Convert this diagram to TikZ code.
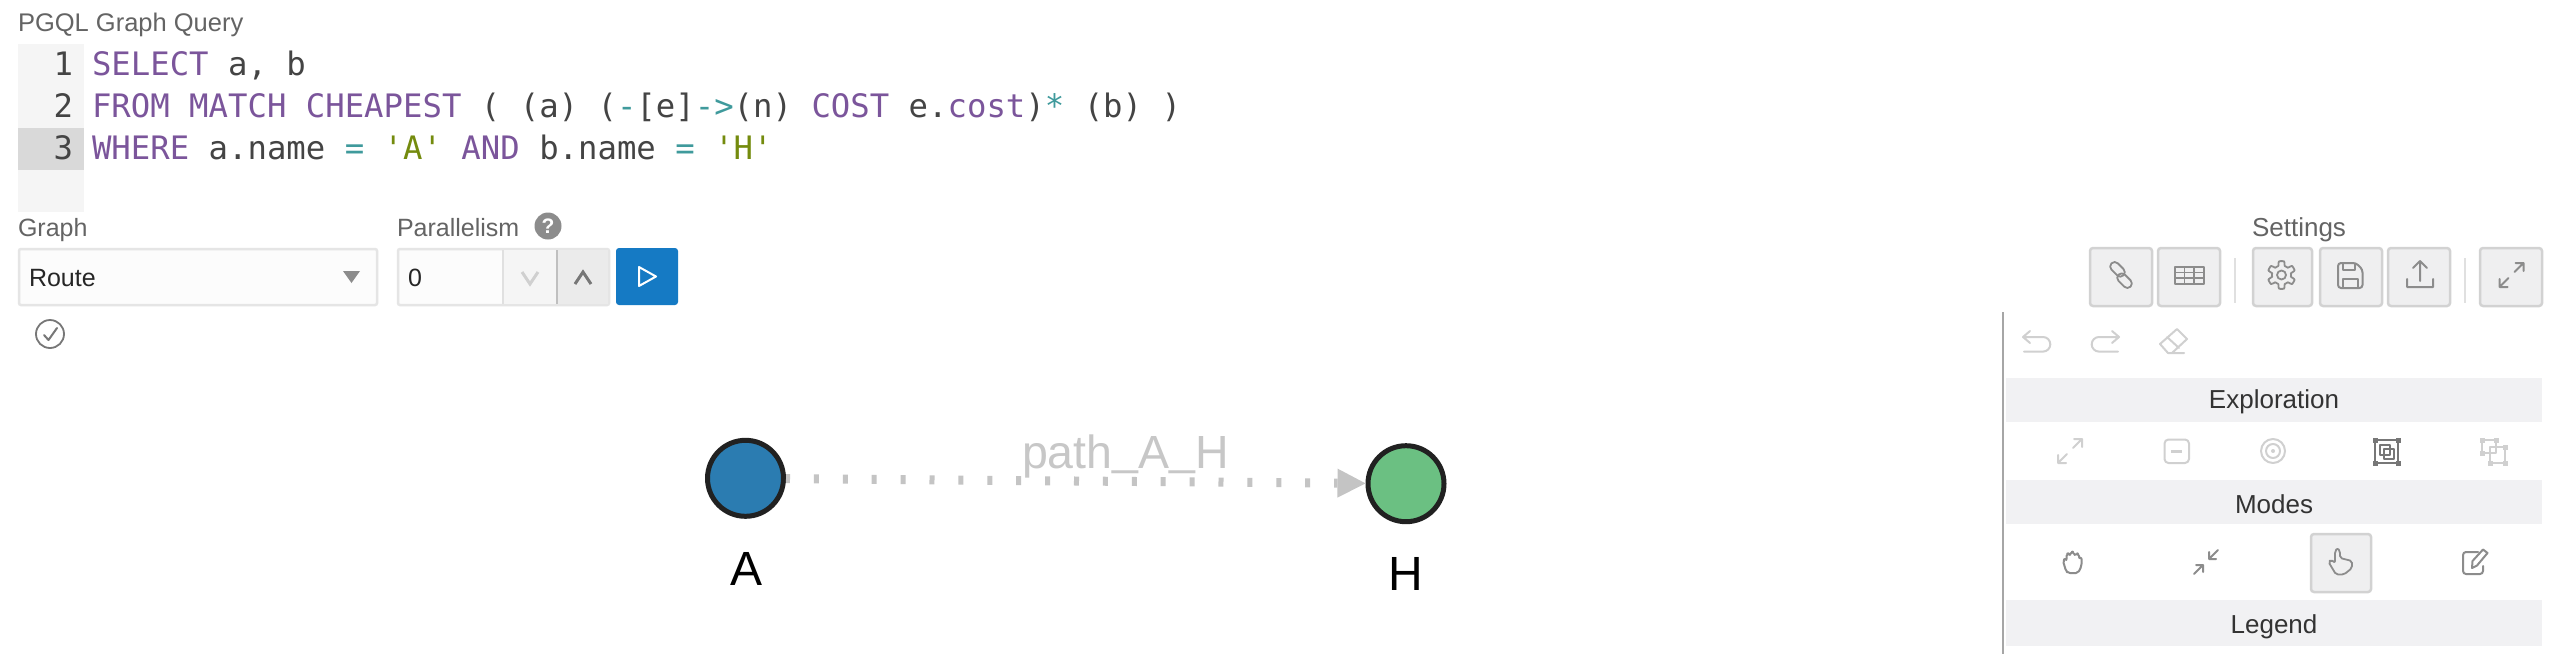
\documentclass[tikz,border=0pt]{standalone}
\usepackage{fontspec}
\setmainfont{Liberation Sans}
\newfontfamily\codefont{DejaVu Sans Mono}
\usetikzlibrary{arrows.meta}
\definecolor{kwc}{HTML}{7B559B}
\definecolor{opc}{HTML}{3F9A9C}
\definecolor{strc}{HTML}{748B0E}
\definecolor{txtc}{HTML}{444444}
\definecolor{lblc}{HTML}{646464}
\definecolor{barc}{HTML}{F1F1F3}
\definecolor{icoc}{HTML}{8C8C8C}
\definecolor{dimc}{HTML}{D0D0D0}
\definecolor{darkic}{HTML}{777777}
\definecolor{btnf}{HTML}{EFEFF0}
\definecolor{btnd}{HTML}{D2D2D2}
\definecolor{edgec}{HTML}{C4C4C4}
\newcommand{\codeK}[1]{\textcolor{kwc}{#1}}
\newcommand{\codeO}[1]{\textcolor{opc}{#1}}
\newcommand{\codeS}[1]{\textcolor{strc}{#1}}
\newcommand{\fsz}[1]{\fontsize{#1}{#1}\selectfont}
\tikzset{
  txt/.style={inner sep=0pt,outer sep=0pt},
  codeline/.style={txt,anchor=base west,text=txtc,font=\codefont\fsz{32.3}},
  gutnum/.style={txt,anchor=base east,text=txtc,font=\codefont\fsz{32.3}},
  lbl/.style={txt,anchor=base west,text=lblc,font=\fsz{25}},
  bartxt/.style={txt,anchor=base,text=black!80,font=\fsz{26}},
  toolbtn/.style={draw=btnd,fill=btnf,line width=2.5pt,rounded corners=3pt},
  bar/.style={fill=barc,draw=none},
  ic/.style={draw=icoc,line width=2pt,line cap=round,line join=round},
  icdim/.style={draw=dimc,line width=2pt,line cap=round,line join=round},
  icdark/.style={draw=darkic,line width=2pt,line cap=round,line join=round},
  gnode/.style={circle,draw=black!87,line width=5pt,minimum size=76pt,inner sep=0pt,outer sep=2.5pt},
  glabel/.style={txt,anchor=base,text=black,font=\fsz{48}},
  gedge/.style={draw=edgec,line width=9pt,dash pattern=on 5pt off 23.9pt,dash phase=1pt,
    -{Triangle[length=28pt,width=29pt,fill=edgec,line width=0pt]}}
}
\newcommand{\expandic}[3]{%
  \draw[#3] (#1+3,#2-3)--(#1+12,#2-12) (#1+4,#2-12)--(#1+12,#2-12)--(#1+12,#2-4)
            (#1-3,#2+3)--(#1-12,#2+12) (#1-4,#2+12)--(#1-12,#2+12)--(#1-12,#2+4);}
\newcommand{\collapseic}[3]{%
  \draw[#3] (#1+12,#2-12)--(#1+3,#2-3) (#1+3,#2-10)--(#1+3,#2-3)--(#1+10,#2-3)
            (#1-12,#2+12)--(#1-3,#2+3) (#1-3,#2+10)--(#1-3,#2+3)--(#1-10,#2+3);}
\begin{document}
\begin{tikzpicture}[x=1pt,y=-1pt]
\useasboundingbox (0,0) rectangle (2560,654);
\fill[white] (0,0) rectangle (2560,654);

% --- editor
\node[lbl,font=\fsz{25.5}] (title) at (18,31) {PGQL Graph Query};
\fill[black!4] (18,44) rectangle (84,212);
\fill[black!15] (18,128) rectangle (84,170);
\node[gutnum] (n1) at (73,75) {1};
\node[gutnum] (n2) at (73,117) {2};
\node[gutnum] (n3) at (73,159) {3};
\node[codeline] (l1) at (92,75) {\codeK{SELECT} a, b};
\node[codeline] (l2) at (92,117) {\codeK{FROM MATCH CHEAPEST} ( (a) (\codeO{-}[e]\codeO{->}(n) \codeK{COST} e.\codeK{cost})\codeO{*} (b) )};
\node[codeline] (l3) at (92,159) {\codeK{WHERE} a.name \codeO{=} \codeS{\textquotesingle A\textquotesingle} \codeK{AND} b.name \codeO{=} \codeS{\textquotesingle H\textquotesingle}};

% --- form row
\node[lbl] (glab) at (18,236) {Graph};
\node[lbl] (plab) at (397,236) {Parallelism};
\node[circle,fill=icoc,inner sep=0pt,minimum size=27pt,text=white,font=\bfseries\fsz{21}] (help) at (548,226) {?};
\draw[draw=black!10,fill=black!1,line width=2.5pt,rounded corners=2pt] (19,249) rectangle (377,305);
\node[txt,anchor=base west,text=black!85,font=\fsz{25}] (route) at (29,286) {Route};
\fill[icoc] (343,271) -- (360,271) -- (351.5,283) -- cycle;
\draw[draw=black!10,fill=black!1,line width=2.5pt,rounded corners=2pt] (398,249) rectangle (609,305);
\fill[black!4] (503,250) rectangle (557,304);
\fill[black!8] (557,250) rectangle (608,304);
\draw[black!12,line width=2pt] (503,250)--(503,304);
\draw[black!25,line width=2pt] (557,250)--(557,304);
\node[txt,anchor=base west,text=black!85,font=\fsz{25}] (zero) at (408,286) {0};
\draw[dimc,line width=3pt] (522,272)--(530,284)--(538,272);
\draw[darkic,line width=3pt] (575,284)--(583,272)--(591,284);
\fill[rounded corners=3pt,fill={rgb,255:red,21;green,122;blue,196}] (616,248) rectangle (678,305);
\draw[white,line width=2pt,line join=round] (639,267)--(656,276.5)--(639,286)--cycle;
\draw[darkic,line width=1.8pt] (50,334) circle[radius=14];
\draw[darkic,line width=2pt,line cap=round,line join=round] (44,335)--(48.5,340)--(57,328);

% --- toolbar
\node[lbl,font=\fsz{26}] (settings) at (2252,236) {Settings};
\draw[toolbtn] (2090,248) rectangle (2152,306);
\draw[toolbtn] (2158,248) rectangle (2220,306);
\draw[toolbtn] (2253,248) rectangle (2312,306);
\draw[toolbtn] (2320,248) rectangle (2382,306);
\draw[toolbtn] (2388,248) rectangle (2450,306);
\draw[toolbtn] (2480,248) rectangle (2542,306);
\draw[black!12,line width=2pt] (2235,258)--(2235,303) (2465,258)--(2465,303);
% link
\begin{scope}[shift={(2121,275)},rotate=-45]
  \draw[ic,line width=1.8pt,rounded corners=4.5pt] (-15,-6) rectangle (2,3);
  \draw[ic,line width=1.8pt,rounded corners=4.5pt] (-2,-3) rectangle (15,6);
\end{scope}
% table
\draw[ic] (2175,267) rectangle (2203.5,284);
\draw[ic,line width=1.5pt] (2175,272.5)--(2203.5,272.5) (2175,278)--(2203.5,278) (2184.5,267)--(2184.5,284) (2194,267)--(2194,284);
% gear
\begin{scope}[shift={(2281.5,275)}]
  \draw[ic,line width=1.8pt] plot[domain=0:357.5,samples=144]
    ({(11.7+2.2*max(-0.4,min(0.4,-cos(6*\x)))/0.4)*cos(\x)},{(11.7+2.2*max(-0.4,min(0.4,-cos(6*\x)))/0.4)*sin(\x)}) -- cycle;
  \draw[ic,line width=1.8pt] (0,0) circle[radius=4.5];
\end{scope}
% save
\draw[ic,rounded corners=3pt] (2338,263) -- (2356,263) -- (2362.5,269.5) -- (2362.5,288) -- (2338,288) -- cycle;
\draw[ic,line width=1.8pt] (2343,263)--(2343,270)--(2355,270)--(2355,263.5) (2343,288)--(2343,279)--(2358,279)--(2358,288);
% upload
\draw[ic] (2420,261)--(2420,281) (2413,268)--(2420,261)--(2427,268) (2407,279)--(2407,287)--(2433,287)--(2433,279);
% expand
\expandic{2511.5}{275}{ic}

% --- side panel
\draw[black!35,line width=2pt] (2003,312)--(2003,654);
% undo, redo, eraser
\draw[icdim] (2024,337)--(2043,337) arc[start angle=-90,end angle=90,radius=7.3] -- (2024,351.6) (2030,331)--(2023,337)--(2030,343);
\draw[icdim] (2118,337)--(2099,337) arc[start angle=270,end angle=90,radius=7.3] -- (2118,351.6) (2112,331)--(2119,337)--(2112,343);
\draw[icdim] (2160,344)--(2177,329)--(2187,339)--(2172,353)--(2168,353)--cycle (2167,337)--(2179,348) (2172,353)--(2184,353);

\draw[bar,fill=barc] (2006,378) rectangle (2542,422);
\draw[bar,fill=barc] (2006,480) rectangle (2542,524);
\draw[bar,fill=barc] (2006,600) rectangle (2542,646);
\node[bartxt] (expl) at (2274,408) {Exploration};
\node[bartxt] (modes) at (2274,513) {Modes};
\node[bartxt] (legend) at (2274,633) {Legend};

% exploration row
\expandic{2070}{451}{icdim}
\draw[icdim,rounded corners=4pt] (2164.5,439.5) rectangle (2189,463);
\draw[dimc,line width=3pt] (2171,451)--(2182,451);
\draw[icdim] (2273,451) circle[radius=12];
\draw[icdim] (2273,451) circle[radius=7];
\fill[dimc] (2273,451) circle[radius=2];
% frame select (dark)
\draw[icdark] (2375,440) rectangle (2398,463);
\foreach \hx/\hy in {2375/440,2398/440,2375/463,2398/463}{\fill[darkic] (\hx-2.5,\hy-2.5) rectangle (\hx+2.5,\hy+2.5);}
\draw[icdark] (2380,445) rectangle (2390,455);
\draw[icdark] (2384,449) rectangle (2394,459);
% group (light)
\draw[icdim] (2482,440) rectangle (2496,453);
\draw[icdim] (2490,447) rectangle (2505,463);
\foreach \hx/\hy in {2482/440,2496/440,2482/453,2490/463,2505/447,2505/463}{\fill[dimc] (\hx-2.5,\hy-2.5) rectangle (\hx+2.5,\hy+2.5);}

% modes row
\draw[ic,rounded corners=2pt] (2066,571) -- (2063,561) -- (2065,558) -- (2066.5,561) -- (2066.5,554) -- (2069,553) -- (2070,556) -- (2071,551.5) -- (2074,552) -- (2074.5,556) -- (2076,553) -- (2079,554) -- (2079,559) -- (2081.5,557) -- (2081.5,566) -- (2078,573) -- (2068,573) -- cycle;
\collapseic{2206}{562}{ic}
\draw[toolbtn] (2311,534) rectangle (2371,592);
\draw[ic,rounded corners=2pt,line width=1.8pt] (2344,574.5) -- (2336,574.5) -- (2328.5,562) -- (2331,559.5) -- (2335,563) -- (2335,551) -- (2337.5,548) -- (2340,551) -- (2340,558) -- (2352,561) -- (2352,568) -- cycle;
\draw[ic,rounded corners=3pt] (2478,552) -- (2463,552) -- (2463,574) -- (2483,574) -- (2483,566);
\draw[ic] (2472,568) -- (2472.5,561) -- (2483,549.5) -- (2487.5,553) -- (2477,565.5) -- cycle;

% --- graph
\node[gnode,fill={rgb,255:red,43;green,124;blue,177}] (A) at (745.5,478.3) {};
\node[gnode,fill={rgb,255:red,107;green,192;blue,130}] (H) at (1406,483.7) {};
\draw[gedge] (A) -- (H);
\node[txt,anchor=base west,text=black!22,font=\fsz{46.5}] (edgelbl) at (1022,468) {path\raisebox{4pt}{\_}A\raisebox{4pt}{\_}H};
\node[glabel] (Alab) at (746,585) {A};
\node[glabel] (Hlab) at (1406,590) {H};
\end{tikzpicture}
\end{document}
